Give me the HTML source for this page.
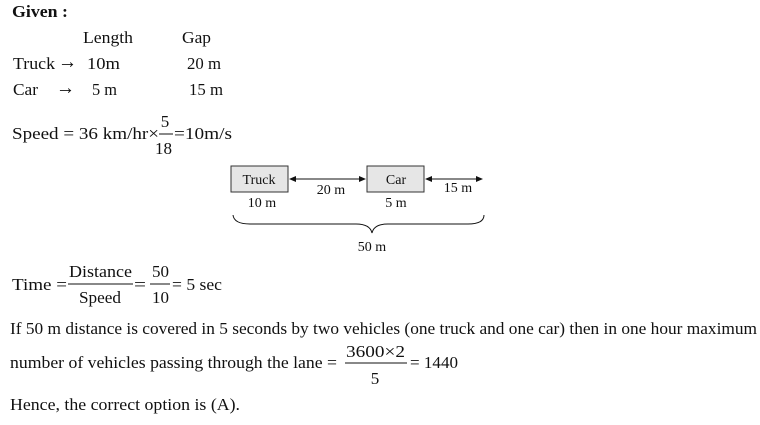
<!DOCTYPE html>
<html><head><meta charset="utf-8"><style>
html,body{margin:0;padding:0;background:#fff;}
svg{display:block;}
text{font-family:"Liberation Serif",serif;fill:#111;}
</style></head><body>
<svg width="760" height="425" viewBox="0 0 760 425" xmlns="http://www.w3.org/2000/svg">
<g font-size="17">
<text x="12" y="17" font-weight="bold" textLength="56" lengthAdjust="spacingAndGlyphs">Given :</text>
<text x="83" y="43" textLength="50" lengthAdjust="spacingAndGlyphs">Length</text>
<text x="182" y="43" textLength="29" lengthAdjust="spacingAndGlyphs">Gap</text>
<text x="13" y="69" textLength="42" lengthAdjust="spacingAndGlyphs">Truck</text>
<text x="58" y="68" font-size="20" textLength="19" lengthAdjust="spacingAndGlyphs">→</text>
<text x="87" y="69" textLength="33" lengthAdjust="spacingAndGlyphs">10m</text>
<text x="187" y="69" textLength="34" lengthAdjust="spacingAndGlyphs">20 m</text>
<text x="13" y="95" textLength="25" lengthAdjust="spacingAndGlyphs">Car</text>
<text x="56" y="94" font-size="20" textLength="19" lengthAdjust="spacingAndGlyphs">→</text>
<text x="92" y="95" textLength="25" lengthAdjust="spacingAndGlyphs">5 m</text>
<text x="189" y="95" textLength="34" lengthAdjust="spacingAndGlyphs">15 m</text>
<text x="12" y="139" textLength="147" lengthAdjust="spacingAndGlyphs">Speed = 36 km/hr×</text>
<text x="165" y="127" text-anchor="middle">5</text>
<line x1="159" y1="134" x2="173" y2="134" stroke="#111" stroke-width="1"/>
<text x="155" y="154" textLength="17" lengthAdjust="spacingAndGlyphs">18</text>
<text x="174" y="139" textLength="58" lengthAdjust="spacingAndGlyphs">=10m/s</text>

<text x="12" y="290" textLength="55" lengthAdjust="spacingAndGlyphs">Time =</text>
<text x="69" y="277" textLength="63" lengthAdjust="spacingAndGlyphs">Distance</text>
<line x1="68" y1="284" x2="133" y2="284" stroke="#111"/>
<text x="79" y="303" textLength="42" lengthAdjust="spacingAndGlyphs">Speed</text>
<text x="134" y="290" textLength="12" lengthAdjust="spacingAndGlyphs">=</text>
<text x="152" y="277" textLength="17" lengthAdjust="spacingAndGlyphs">50</text>
<line x1="150" y1="284" x2="170" y2="284" stroke="#111"/>
<text x="152" y="303" textLength="17" lengthAdjust="spacingAndGlyphs">10</text>
<text x="172" y="290" textLength="50" lengthAdjust="spacingAndGlyphs">= 5 sec</text>

<text x="10" y="334" textLength="747" lengthAdjust="spacingAndGlyphs">If 50 m distance is covered in 5 seconds by two vehicles (one truck and one car) then in one hour maximum</text>
<text x="10" y="368" textLength="327" lengthAdjust="spacingAndGlyphs">number of vehicles passing through the lane =</text>
<text x="346" y="357" textLength="59" lengthAdjust="spacingAndGlyphs">3600×2</text>
<line x1="345" y1="363" x2="407" y2="363" stroke="#111"/>
<text x="375" y="384" text-anchor="middle">5</text>
<text x="410" y="368" textLength="48" lengthAdjust="spacingAndGlyphs">= 1440</text>
<text x="10" y="410" textLength="230" lengthAdjust="spacingAndGlyphs">Hence, the correct option is (A).</text>
</g>
<g font-size="14">
<rect x="231" y="166" width="57" height="26" fill="#e6e6e6" stroke="#333"/>
<rect x="367" y="166" width="57" height="26" fill="#e6e6e6" stroke="#333"/>
<text x="259" y="184" text-anchor="middle">Truck</text>
<text x="396" y="184" text-anchor="middle">Car</text>
<line x1="292" y1="179" x2="362" y2="179" stroke="#111"/>
<polygon points="289,179 296,176 296,182" fill="#111"/>
<polygon points="366,179 359,176 359,182" fill="#111"/>
<line x1="429" y1="179" x2="479" y2="179" stroke="#111"/>
<polygon points="425,179 432,176 432,182" fill="#111"/>
<polygon points="483,179 476,176 476,182" fill="#111"/>
<text x="331" y="194" text-anchor="middle">20 m</text>
<text x="458" y="192" text-anchor="middle">15 m</text>
<text x="262" y="207" text-anchor="middle">10 m</text>
<text x="396" y="207" text-anchor="middle">5 m</text>
<path d="M233,215 Q234,224 250,224 L356,224 Q370,224 372,233 Q374,224 388,224 L468,224 Q484,224 484,215" fill="none" stroke="#111" stroke-width="1"/>
<text x="372" y="251" text-anchor="middle">50 m</text>
</g>
</svg>
</body></html>
